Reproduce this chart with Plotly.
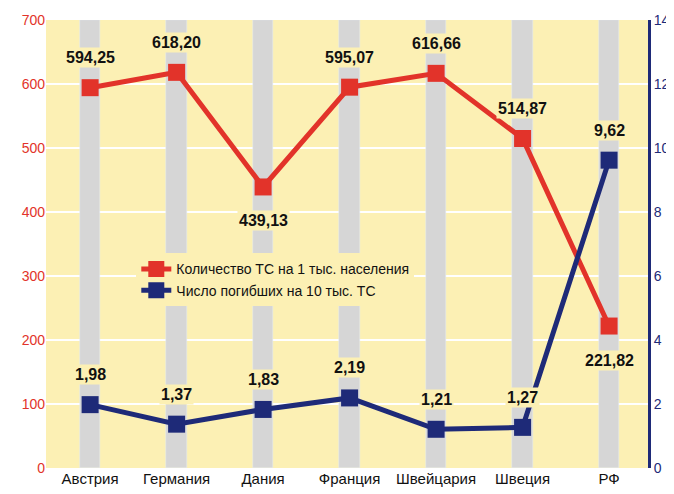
import plotly.graph_objects as go

cats = ["Австрия", "Германия", "Дания", "Франция", "Швейцария", "Швеция", "РФ"]
vehicles = [594.25, 618.20, 439.13, 595.07, 616.66, 514.87, 221.82]
deaths = [1.98, 1.37, 1.83, 2.19, 1.21, 1.27, 9.62]
veh_labels = ["594,25", "618,20", "439,13", "595,07", "616,66", "514,87", "221,82"]
death_labels = ["1,98", "1,37", "1,83", "2,19", "1,21", "1,27", "9,62"]

BG = "#fcf0b4"
RED = "#e2332a"
BLUE = "#1e2a78"
xs = list(range(len(cats)))

fig = go.Figure()
fig.add_trace(go.Bar(x=xs, y=[700]*len(xs), width=0.24, marker_color="#d6d6d6",
                     hoverinfo="skip", showlegend=False))
fig.add_trace(go.Scatter(x=xs, y=vehicles, mode="lines+markers", name="Количество ТС на 1 тыс. населения",
                         line=dict(color=RED, width=5), marker=dict(symbol="square", size=17, color=RED)))
fig.add_trace(go.Scatter(x=xs, y=deaths, mode="lines+markers", name="Число погибших на 10 тыс. ТС", yaxis="y2",
                         line=dict(color=BLUE, width=5), marker=dict(symbol="square", size=17, color=BLUE)))

ann = []
for i, (v, t) in enumerate(zip(vehicles, veh_labels)):
    below = i in (2, 6)
    ann.append(dict(x=i, y=v, text="<b>%s</b>" % t, showarrow=False, yshift=-34 if below else 30, bgcolor=BG,
                    font=dict(size=16, color="#111", family="Liberation Sans"), xref="x", yref="y"))
for i, (v, t) in enumerate(zip(deaths, death_labels)):
    ann.append(dict(x=i, y=v, text="<b>%s</b>" % t, showarrow=False, yshift=30, bgcolor=BG, xref="x", yref="y2",
                    font=dict(size=16, color="#111", family="Liberation Sans")))
fig.update_layout(annotations=ann)

fig.update_layout(
    width=674, height=494, margin=dict(l=38, r=34, t=12, b=34, autoexpand=False),
    paper_bgcolor="white", plot_bgcolor=BG, font=dict(family="Liberation Sans", color="#222", size=14),
    xaxis=dict(tickvals=xs, ticktext=cats, range=[-0.51, 6.45], showgrid=False, zeroline=False,
               tickfont=dict(size=15, color="#111")),
    yaxis=dict(range=[0, 700], dtick=100, gridcolor="white", gridwidth=2, zeroline=False,
               tickfont=dict(size=14, color=RED), ticks=""),
    yaxis2=dict(range=[0, 14], dtick=2, overlaying="y", side="right", showgrid=False, zeroline=False,
                showline=True, linecolor=BLUE, linewidth=3, tickfont=dict(size=14, color=BLUE)),
    legend=dict(x=0.15, y=0.42, xanchor="left", yanchor="middle", bgcolor=BG,
                font=dict(size=14, color="#111"), tracegroupgap=6),
    bargap=0,
)
fig.write_html("out.html")
